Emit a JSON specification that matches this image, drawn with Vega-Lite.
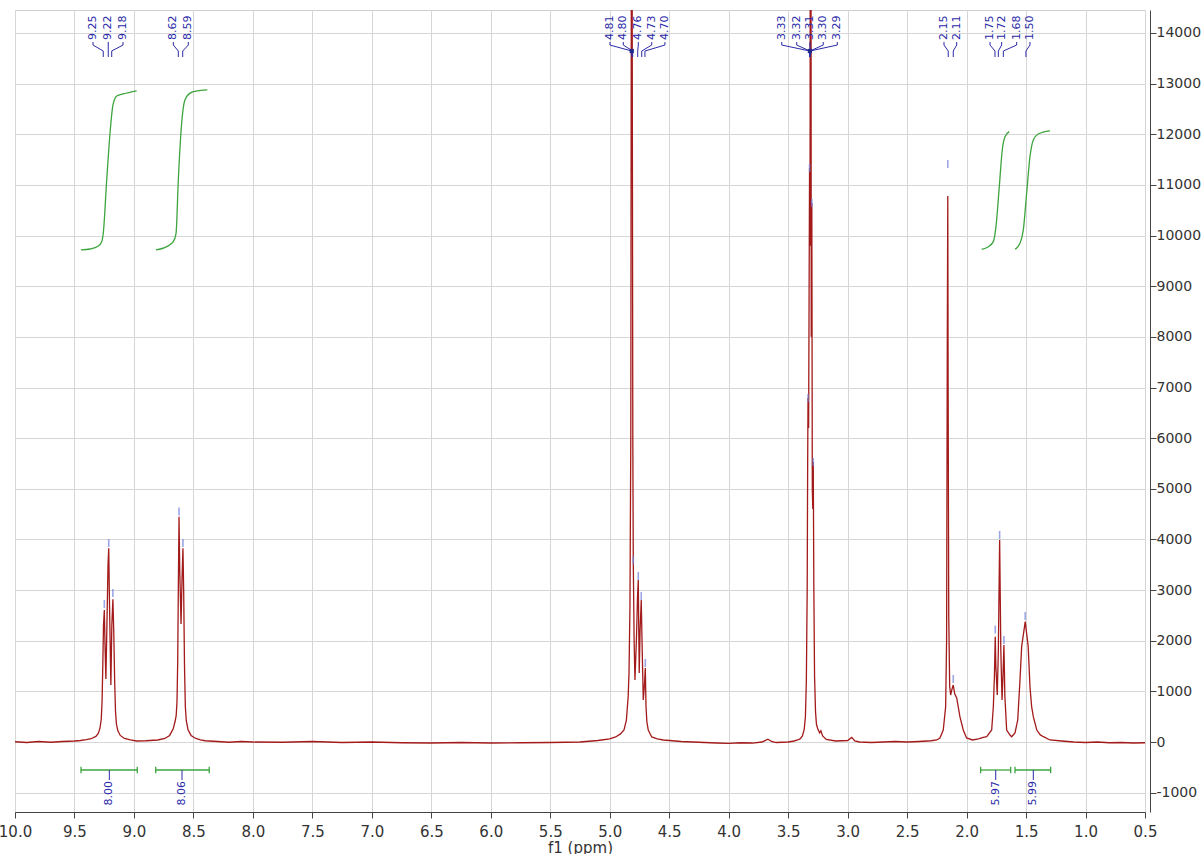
{
  "$schema": "https://vega.github.io/schema/vega-lite/v6.json",
  "width": 1130,
  "height": 802,
  "autosize": {"type": "none"},
  "padding": {"left": 15, "top": 10, "right": 58, "bottom": 42},
  "background": "white",
  "config": {"view": {"stroke": "#cfcfcf"}, "font": "DejaVu Sans"},
  "datasets": {
    "spec": [
      {"ppm": 10.0, "i": 5}, {"ppm": 9.9, "i": -10}, {"ppm": 9.8, "i": 10}, {"ppm": 9.7, "i": -5}, {"ppm": 9.6, "i": 10},
      {"ppm": 9.5, "i": 20}, {"ppm": 9.45, "i": 30}, {"ppm": 9.4, "i": 45}, {"ppm": 9.36, "i": 65}, {"ppm": 9.32, "i": 110},
      {"ppm": 9.3, "i": 170}, {"ppm": 9.285, "i": 280}, {"ppm": 9.275, "i": 450}, {"ppm": 9.268, "i": 800}, {"ppm": 9.262, "i": 1500},
      {"ppm": 9.256, "i": 2300}, {"ppm": 9.249, "i": 2607}, {"ppm": 9.243, "i": 1900}, {"ppm": 9.236, "i": 1244}, {"ppm": 9.228, "i": 2200},
      {"ppm": 9.218, "i": 3500}, {"ppm": 9.212, "i": 3825}, {"ppm": 9.206, "i": 2800}, {"ppm": 9.194, "i": 1126}, {"ppm": 9.186, "i": 2300},
      {"ppm": 9.177, "i": 2818}, {"ppm": 9.17, "i": 2200}, {"ppm": 9.162, "i": 1200}, {"ppm": 9.155, "i": 600}, {"ppm": 9.147, "i": 350},
      {"ppm": 9.135, "i": 220}, {"ppm": 9.115, "i": 130}, {"ppm": 9.08, "i": 70}, {"ppm": 9.03, "i": 40}, {"ppm": 8.98, "i": 20},
      {"ppm": 8.9, "i": 25}, {"ppm": 8.8, "i": 40}, {"ppm": 8.74, "i": 70}, {"ppm": 8.7, "i": 130}, {"ppm": 8.67, "i": 260},
      {"ppm": 8.655, "i": 400}, {"ppm": 8.645, "i": 520}, {"ppm": 8.638, "i": 800}, {"ppm": 8.632, "i": 1600}, {"ppm": 8.627, "i": 3000},
      {"ppm": 8.621, "i": 4449}, {"ppm": 8.615, "i": 3400}, {"ppm": 8.604, "i": 2330}, {"ppm": 8.596, "i": 3200}, {"ppm": 8.588, "i": 3825},
      {"ppm": 8.582, "i": 3000}, {"ppm": 8.575, "i": 1500}, {"ppm": 8.568, "i": 700}, {"ppm": 8.56, "i": 420}, {"ppm": 8.545, "i": 240},
      {"ppm": 8.52, "i": 130}, {"ppm": 8.48, "i": 70}, {"ppm": 8.44, "i": 40}, {"ppm": 8.4, "i": 25}, {"ppm": 8.3, "i": 10},
      {"ppm": 8.2, "i": -5}, {"ppm": 8.1, "i": 10}, {"ppm": 8.0, "i": 0}, {"ppm": 7.75, "i": -5}, {"ppm": 7.5, "i": 10},
      {"ppm": 7.25, "i": -10}, {"ppm": 7.0, "i": 0}, {"ppm": 6.75, "i": -15}, {"ppm": 6.5, "i": -20}, {"ppm": 6.25, "i": -10},
      {"ppm": 6.0, "i": -20}, {"ppm": 5.75, "i": -15}, {"ppm": 5.5, "i": -10}, {"ppm": 5.25, "i": 0}, {"ppm": 5.1, "i": 30},
      {"ppm": 5.0, "i": 60}, {"ppm": 4.95, "i": 100}, {"ppm": 4.91, "i": 160}, {"ppm": 4.88, "i": 240}, {"ppm": 4.86, "i": 430},
      {"ppm": 4.845, "i": 900}, {"ppm": 4.838, "i": 1360}, {"ppm": 4.83, "i": 2670}, {"ppm": 4.823, "i": 6000}, {"ppm": 4.818, "i": 16000},
      {"ppm": 4.815, "i": 40000}, {"ppm": 4.811, "i": 14000}, {"ppm": 4.806, "i": 6000}, {"ppm": 4.802, "i": 3535}, {"ppm": 4.795, "i": 2000},
      {"ppm": 4.788, "i": 1224}, {"ppm": 4.776, "i": 2000}, {"ppm": 4.766, "i": 2900}, {"ppm": 4.76, "i": 3199}, {"ppm": 4.756, "i": 2200},
      {"ppm": 4.752, "i": 1362}, {"ppm": 4.745, "i": 2200}, {"ppm": 4.735, "i": 2804}, {"ppm": 4.727, "i": 1800}, {"ppm": 4.718, "i": 829},
      {"ppm": 4.709, "i": 1100}, {"ppm": 4.701, "i": 1461}, {"ppm": 4.695, "i": 700}, {"ppm": 4.688, "i": 400}, {"ppm": 4.676, "i": 237},
      {"ppm": 4.647, "i": 100}, {"ppm": 4.6, "i": 60}, {"ppm": 4.55, "i": 40}, {"ppm": 4.5, "i": 30}, {"ppm": 4.4, "i": 10},
      {"ppm": 4.3, "i": 0}, {"ppm": 4.2, "i": -10}, {"ppm": 4.1, "i": -20}, {"ppm": 4.0, "i": -25}, {"ppm": 3.9, "i": -15},
      {"ppm": 3.8, "i": -20}, {"ppm": 3.72, "i": 0}, {"ppm": 3.67, "i": 55}, {"ppm": 3.64, "i": 10}, {"ppm": 3.6, "i": -10},
      {"ppm": 3.5, "i": 0}, {"ppm": 3.45, "i": 20}, {"ppm": 3.42, "i": 40}, {"ppm": 3.4, "i": 60}, {"ppm": 3.38, "i": 120},
      {"ppm": 3.365, "i": 250}, {"ppm": 3.355, "i": 500}, {"ppm": 3.347, "i": 1200}, {"ppm": 3.34, "i": 3000}, {"ppm": 3.336, "i": 5500},
      {"ppm": 3.333, "i": 6793}, {"ppm": 3.328, "i": 6200}, {"ppm": 3.323, "i": 9500}, {"ppm": 3.32, "i": 11335}, {"ppm": 3.316, "i": 9800},
      {"ppm": 3.311, "i": 30000}, {"ppm": 3.306, "i": 8000}, {"ppm": 3.301, "i": 10644}, {"ppm": 3.297, "i": 5000}, {"ppm": 3.293, "i": 4600},
      {"ppm": 3.289, "i": 5529}, {"ppm": 3.284, "i": 3000}, {"ppm": 3.278, "i": 1300}, {"ppm": 3.27, "i": 600}, {"ppm": 3.262, "i": 350},
      {"ppm": 3.25, "i": 250}, {"ppm": 3.235, "i": 180}, {"ppm": 3.225, "i": 220}, {"ppm": 3.21, "i": 120}, {"ppm": 3.18, "i": 50},
      {"ppm": 3.1, "i": 20}, {"ppm": 3.0, "i": 30}, {"ppm": 2.965, "i": 90}, {"ppm": 2.94, "i": 20}, {"ppm": 2.9, "i": 0},
      {"ppm": 2.8, "i": -10}, {"ppm": 2.7, "i": 0}, {"ppm": 2.6, "i": 10}, {"ppm": 2.5, "i": 0}, {"ppm": 2.4, "i": 10},
      {"ppm": 2.3, "i": 25}, {"ppm": 2.25, "i": 40}, {"ppm": 2.224, "i": 80}, {"ppm": 2.196, "i": 237}, {"ppm": 2.176, "i": 697},
      {"ppm": 2.168, "i": 2000}, {"ppm": 2.162, "i": 8000}, {"ppm": 2.158, "i": 10782}, {"ppm": 2.155, "i": 7000}, {"ppm": 2.15, "i": 2500},
      {"ppm": 2.142, "i": 1100}, {"ppm": 2.134, "i": 928}, {"ppm": 2.122, "i": 1050}, {"ppm": 2.112, "i": 1126}, {"ppm": 2.1, "i": 950},
      {"ppm": 2.083, "i": 869}, {"ppm": 2.056, "i": 500}, {"ppm": 2.028, "i": 237}, {"ppm": 2.0, "i": 80}, {"ppm": 1.95, "i": 40},
      {"ppm": 1.9, "i": 60}, {"ppm": 1.86, "i": 90}, {"ppm": 1.831, "i": 105}, {"ppm": 1.789, "i": 237}, {"ppm": 1.775, "i": 697},
      {"ppm": 1.766, "i": 1300}, {"ppm": 1.759, "i": 2080}, {"ppm": 1.754, "i": 1500}, {"ppm": 1.742, "i": 928}, {"ppm": 1.733, "i": 1800},
      {"ppm": 1.722, "i": 3989}, {"ppm": 1.712, "i": 1800}, {"ppm": 1.702, "i": 829}, {"ppm": 1.694, "i": 1300}, {"ppm": 1.686, "i": 1915},
      {"ppm": 1.678, "i": 900}, {"ppm": 1.663, "i": 237}, {"ppm": 1.635, "i": 138}, {"ppm": 1.621, "i": 105}, {"ppm": 1.593, "i": 178},
      {"ppm": 1.57, "i": 434}, {"ppm": 1.551, "i": 1224}, {"ppm": 1.537, "i": 1883}, {"ppm": 1.507, "i": 2376}, {"ppm": 1.482, "i": 1883},
      {"ppm": 1.467, "i": 1092}, {"ppm": 1.453, "i": 697}, {"ppm": 1.439, "i": 500}, {"ppm": 1.41, "i": 237}, {"ppm": 1.38, "i": 140},
      {"ppm": 1.354, "i": 105}, {"ppm": 1.3, "i": 40}, {"ppm": 1.2, "i": 20}, {"ppm": 1.1, "i": 0}, {"ppm": 1.0, "i": -10},
      {"ppm": 0.9, "i": 0}, {"ppm": 0.8, "i": -15}, {"ppm": 0.7, "i": -10}, {"ppm": 0.6, "i": -20}, {"ppm": 0.5, "i": -15}
    ],
    "integ": [
      {"g": 1, "ppm": 9.445, "i": 9716}, {"g": 1, "ppm": 9.369, "i": 9735}, {"g": 1, "ppm": 9.3, "i": 9794}, {"g": 1, "ppm": 9.271, "i": 9880},
      {"g": 1, "ppm": 9.258, "i": 10045}, {"g": 1, "ppm": 9.229, "i": 11098}, {"g": 1, "ppm": 9.201, "i": 12026}, {"g": 1, "ppm": 9.179, "i": 12546},
      {"g": 1, "ppm": 9.165, "i": 12678}, {"g": 1, "ppm": 9.145, "i": 12757}, {"g": 1, "ppm": 9.09, "i": 12796}, {"g": 1, "ppm": 8.977, "i": 12856},
      {"g": 2, "ppm": 8.815, "i": 9716}, {"g": 2, "ppm": 8.725, "i": 9781}, {"g": 2, "ppm": 8.669, "i": 9880}, {"g": 2, "ppm": 8.646, "i": 10045},
      {"g": 2, "ppm": 8.627, "i": 11098}, {"g": 2, "ppm": 8.599, "i": 12218}, {"g": 2, "ppm": 8.579, "i": 12612}, {"g": 2, "ppm": 8.557, "i": 12743},
      {"g": 2, "ppm": 8.501, "i": 12842}, {"g": 2, "ppm": 8.383, "i": 12875},
      {"g": 3, "ppm": 1.873, "i": 9729}, {"g": 3, "ppm": 1.817, "i": 9781}, {"g": 3, "ppm": 1.775, "i": 9880}, {"g": 3, "ppm": 1.753, "i": 10176},
      {"g": 3, "ppm": 1.725, "i": 10966}, {"g": 3, "ppm": 1.7, "i": 11690}, {"g": 3, "ppm": 1.677, "i": 11953}, {"g": 3, "ppm": 1.641, "i": 12052},
      {"g": 4, "ppm": 1.593, "i": 9729}, {"g": 4, "ppm": 1.551, "i": 9848}, {"g": 4, "ppm": 1.523, "i": 10111}, {"g": 4, "ppm": 1.495, "i": 10835},
      {"g": 4, "ppm": 1.467, "i": 11558}, {"g": 4, "ppm": 1.439, "i": 11888}, {"g": 4, "ppm": 1.397, "i": 12006}, {"g": 4, "ppm": 1.299, "i": 12066}
    ],
    "picks": [
      {"ppm": 9.249, "i": 2587}, {"ppm": 9.212, "i": 3791}, {"ppm": 9.177, "i": 2804}, {"ppm": 8.621, "i": 4413}, {"ppm": 8.588, "i": 3791},
      {"ppm": 4.802, "i": 3450}, {"ppm": 4.76, "i": 3140}, {"ppm": 4.735, "i": 2745}, {"ppm": 4.701, "i": 1422},
      {"ppm": 3.333, "i": 6655}, {"ppm": 3.32, "i": 11197}, {"ppm": 3.301, "i": 10506}, {"ppm": 3.289, "i": 5391},
      {"ppm": 2.158, "i": 11276}, {"ppm": 2.112, "i": 1106}, {"ppm": 1.759, "i": 2083}, {"ppm": 1.722, "i": 3949}, {"ppm": 1.686, "i": 1876},
      {"ppm": 1.507, "i": 2350}
    ],
    "labels": [
      {"t": "9.25", "lab": 9.344, "pk": 9.258}, {"t": "9.22", "lab": 9.216, "pk": 9.216}, {"t": "9.18", "lab": 9.092, "pk": 9.187},
      {"t": "8.62", "lab": 8.669, "pk": 8.627}, {"t": "8.59", "lab": 8.543, "pk": 8.59},
      {"t": "4.81", "lab": 4.998, "pk": 4.815}, {"t": "4.80", "lab": 4.886, "pk": 4.807}, {"t": "4.76", "lab": 4.76, "pk": 4.765},
      {"t": "4.73", "lab": 4.647, "pk": 4.731}, {"t": "4.70", "lab": 4.536, "pk": 4.704},
      {"t": "3.33", "lab": 3.554, "pk": 3.317}, {"t": "3.32", "lab": 3.428, "pk": 3.317}, {"t": "3.31", "lab": 3.317, "pk": 3.317},
      {"t": "3.30", "lab": 3.205, "pk": 3.317}, {"t": "3.29", "lab": 3.087, "pk": 3.317},
      {"t": "2.15", "lab": 2.19, "pk": 2.154}, {"t": "2.11", "lab": 2.083, "pk": 2.112},
      {"t": "1.75", "lab": 1.803, "pk": 1.761}, {"t": "1.72", "lab": 1.705, "pk": 1.733}, {"t": "1.68", "lab": 1.579, "pk": 1.691},
      {"t": "1.50", "lab": 1.467, "pk": 1.501}
    ],
    "dots": [{"ppm": 3.317}, {"ppm": 4.815}],
    "bars": [
      {"from": 9.445, "to": 8.972, "mid": 9.207, "val": "8.00"},
      {"from": 8.817, "to": 8.367, "mid": 8.596, "val": "8.06"},
      {"from": 1.882, "to": 1.629, "mid": 1.755, "val": "5.97"},
      {"from": 1.593, "to": 1.293, "mid": 1.439, "val": "5.99"}
    ]
  },
  "layer": [
    {
      "data": {"name": "spec"},
      "mark": {"type": "line", "color": "#a31a1a", "strokeWidth": 1.3, "clip": true},
      "encoding": {
        "x": {
          "field": "ppm", "type": "quantitative", "title": "f1 (ppm)",
          "scale": {"domain": [0.5, 10], "reverse": true, "nice": false, "zero": false},
          "axis": {
            "values": [0.5, 0.75, 1, 1.25, 1.5, 1.75, 2, 2.25, 2.5, 2.75, 3, 3.25, 3.5, 3.75, 4, 4.25, 4.5, 4.75, 5, 5.25, 5.5, 5.75, 6, 6.25, 6.5, 6.75, 7, 7.25, 7.5, 7.75, 8, 8.25, 8.5, 8.75, 9, 9.25, 9.5, 9.75, 10],
            "format": ".1f",
            "labelExpr": "abs(datum.value*2-round(datum.value*2))>0.01 ? '' : datum.label",
            "labelFlush": false, "labelOverlap": false, "labelBound": false,
            "labelFontSize": 15, "labelColor": "#333333", "labelPadding": 6,
            "tickSize": {"condition": {"test": "abs(datum.value*2-round(datum.value*2))>0.01", "value": 3}, "value": 6},
            "tickColor": "#444444", "domainColor": "#444444",
            "grid": true, "gridColor": "#d6d6d6",
            "gridOpacity": {"condition": {"test": "abs(datum.value*2-round(datum.value*2))>0.01", "value": 0}, "value": 1},
            "titleFontSize": 15, "titleFontWeight": "normal", "titleColor": "#333333", "titlePadding": 1
          }
        },
        "y": {
          "field": "i", "type": "quantitative", "title": null,
          "scale": {"domain": [-1382, 14454], "nice": false, "zero": false},
          "axis": {
            "orient": "right", "offset": 5,
            "values": [-1000, -500, 0, 500, 1000, 1500, 2000, 2500, 3000, 3500, 4000, 4500, 5000, 5500, 6000, 6500, 7000, 7500, 8000, 8500, 9000, 9500, 10000, 10500, 11000, 11500, 12000, 12500, 13000, 13500, 14000],
            "labelExpr": "datum.value % 1000 != 0 ? '' : '' + datum.value",
            "labelFontSize": 14, "labelColor": "#333333", "labelPadding": 0,
            "tickSize": {"condition": {"test": "datum.value % 1000 != 0", "value": 3}, "value": 6},
            "tickColor": "#444444", "domainColor": "#444444",
            "grid": true, "gridColor": "#d6d6d6",
            "gridOpacity": {"condition": {"test": "datum.value % 1000 != 0", "value": 0}, "value": 1}
          }
        }
      }
    },
    {
      "data": {"name": "integ"},
      "mark": {"type": "line", "color": "#3da53d", "strokeWidth": 1.3, "interpolate": "monotone"},
      "encoding": {
        "x": {"field": "ppm", "type": "quantitative"},
        "y": {"field": "i", "type": "quantitative"},
        "detail": {"field": "g"}
      }
    },
    {
      "data": {"name": "picks"},
      "mark": {"type": "tick", "orient": "vertical", "size": 8, "thickness": 1.6, "color": "#7280dc", "yOffset": -7},
      "encoding": {
        "x": {"field": "ppm", "type": "quantitative"},
        "y": {"field": "i", "type": "quantitative"}
      }
    },
    {
      "data": {"name": "labels"},
      "mark": {"type": "rule", "color": "#2a2aa8", "strokeWidth": 1},
      "encoding": {
        "x": {"field": "lab", "type": "quantitative"},
        "y": {"datum": 13822, "type": "quantitative"},
        "y2": {"datum": 13762}
      }
    },
    {
      "data": {"name": "labels"},
      "mark": {"type": "rule", "color": "#2a2aa8", "strokeWidth": 1},
      "encoding": {
        "x": {"field": "lab", "type": "quantitative"},
        "x2": {"field": "pk"},
        "y": {"datum": 13762, "type": "quantitative"},
        "y2": {"datum": 13644}
      }
    },
    {
      "data": {"name": "labels"},
      "mark": {"type": "rule", "color": "#2a2aa8", "strokeWidth": 1},
      "encoding": {
        "x": {"field": "pk", "type": "quantitative"},
        "y": {"datum": 13644, "type": "quantitative"},
        "y2": {"datum": 13526}
      }
    },
    {
      "data": {"name": "labels"},
      "mark": {"type": "text", "angle": 270, "align": "left", "baseline": "middle", "fontSize": 11, "color": "#2a2aa8"},
      "encoding": {
        "x": {"field": "lab", "type": "quantitative"},
        "y": {"datum": 13862, "type": "quantitative"},
        "text": {"field": "t"}
      }
    },
    {
      "data": {"name": "dots"},
      "mark": {"type": "square", "size": 18, "color": "#1f2a8a", "opacity": 1, "filled": true},
      "encoding": {
        "x": {"field": "ppm", "type": "quantitative"},
        "y": {"datum": 13644, "type": "quantitative"}
      }
    },
    {
      "data": {"name": "bars"},
      "mark": {"type": "rule", "color": "#3da53d", "strokeWidth": 1.3},
      "encoding": {
        "x": {"field": "from", "type": "quantitative"},
        "x2": {"field": "to"},
        "y": {"datum": -553, "type": "quantitative"}
      }
    },
    {
      "data": {"name": "bars"},
      "mark": {"type": "rule", "color": "#3da53d", "strokeWidth": 1.3},
      "encoding": {
        "x": {"field": "from", "type": "quantitative"},
        "y": {"datum": -488, "type": "quantitative"},
        "y2": {"datum": -618}
      }
    },
    {
      "data": {"name": "bars"},
      "mark": {"type": "rule", "color": "#3da53d", "strokeWidth": 1.3},
      "encoding": {
        "x": {"field": "to", "type": "quantitative"},
        "y": {"datum": -488, "type": "quantitative"},
        "y2": {"datum": -618}
      }
    },
    {
      "data": {"name": "bars"},
      "mark": {"type": "rule", "color": "#2a2aa8", "strokeWidth": 1},
      "encoding": {
        "x": {"field": "mid", "type": "quantitative"},
        "y": {"datum": -553, "type": "quantitative"},
        "y2": {"datum": -750}
      }
    },
    {
      "data": {"name": "bars"},
      "mark": {"type": "text", "angle": 270, "align": "right", "baseline": "middle", "fontSize": 11, "color": "#2a2aa8"},
      "encoding": {
        "x": {"field": "mid", "type": "quantitative"},
        "y": {"datum": -770, "type": "quantitative"},
        "text": {"field": "val"}
      }
    }
  ]
}
